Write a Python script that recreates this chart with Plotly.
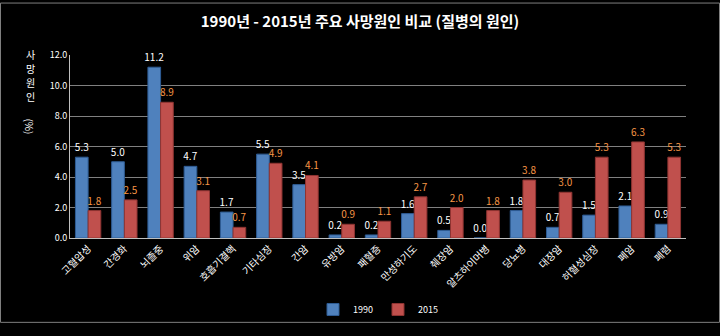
import plotly.graph_objects as go

categories = ["고혈압성", "간경화", "뇌졸중", "위암", "호흡기결핵", "기타심장", "간암", "유방암",
              "패혈증", "만성하기도", "췌장암", "알츠하이머병", "당뇨병", "대장암", "허혈성심장", "폐암", "폐렴"]
v1990 = [5.3, 5.0, 11.2, 4.7, 1.7, 5.5, 3.5, 0.2, 0.2, 1.6, 0.5, 0.0, 1.8, 0.7, 1.5, 2.1, 0.9]
v2015 = [1.8, 2.5, 8.9, 3.1, 0.7, 4.9, 4.1, 0.9, 1.1, 2.7, 2.0, 1.8, 3.8, 3.0, 5.3, 6.3, 5.3]
yticks = [0, 2, 4, 6, 8, 10, 12]
ytitle_chars = ["사", "망", "원", "인"]

FONT = "Noto Sans CJK KR"
W, H = 720, 336
ml, mr, mt, mb = 70, 34, 55, 89

fig = go.Figure()
fig.add_bar(name="1990", x=categories, y=v1990, marker=dict(color="#4F81BD", line=dict(color="#2E5C94", width=1)),
            text=[f"{v:.1f}" for v in v1990], textposition="outside", cliponaxis=False, constraintext="none",
            textfont=dict(color="#FFFFFF", size=10, family=FONT))
fig.add_bar(name="2015", x=categories, y=v2015, marker=dict(color="#C0504D", line=dict(color="#8E3432", width=1)),
            text=[f"{v:.1f}" for v in v2015], textposition="outside", cliponaxis=False, constraintext="none",
            textfont=dict(color="#F79646", size=10, family=FONT))

pw = W - ml - mr
ph = H - mt - mb
def px(x):
    return (x - ml) / pw
def py(y):
    return (H - mb - y) / ph

annotations = []
for i, ch in enumerate(ytitle_chars):
    annotations.append(dict(text=ch, x=px(30), y=py(54 + 15 * i), xref="paper", yref="paper",
                            xanchor="center", yanchor="middle", showarrow=False,
                            font=dict(size=10, color="#FFFFFF", family=FONT)))
annotations.append(dict(text="(%)", textangle=90, x=px(30), y=py(130), xref="paper", yref="paper",
                        xanchor="center", yanchor="middle", showarrow=False,
                        font=dict(size=10, color="#FFFFFF", family=FONT)))

fig.update_layout(
    width=W, height=H,
    margin=dict(l=ml, r=mr, t=mt, b=mb),
    paper_bgcolor="#000000", plot_bgcolor="#000000",
    barmode="group", bargap=0.3, bargroupgap=0.0,
    title=dict(text="<b>1990년 - 2015년 주요 사망원인 비교 (질병의 원인)</b>", x=0.5, xanchor="center",
               y=1 - 22 / H, yanchor="middle",
               font=dict(family=FONT, size=15, color="#FFFFFF")),
    font=dict(family=FONT, color="#FFFFFF"),
    showlegend=True,
    legend=dict(orientation="h", x=0.5, xanchor="center", y=py(322), yanchor="middle",
                font=dict(size=9, color="#FFFFFF", family=FONT), bgcolor="rgba(0,0,0,0)",
                itemwidth=30, traceorder="normal"),
    xaxis=dict(tickangle=-45, tickfont=dict(size=10, color="#FFFFFF", family=FONT),
               showgrid=False, showline=True, linecolor="#BFBFBF", linewidth=1, ticks=""),
    yaxis=dict(range=[0, 12], tickvals=yticks, ticktext=[f"{v:.1f}" for v in yticks],
               tickfont=dict(size=9, color="#FFFFFF", family=FONT),
               showgrid=True, gridcolor="#808080", gridwidth=1,
               showline=True, linecolor="#BFBFBF", linewidth=1, zeroline=False, ticks=""),
    annotations=annotations,
    shapes=[dict(type="rect", xref="paper", yref="paper", x0=px(0.5), x1=px(W - 0.5), y0=py(0.5), y1=py(H - 0.5),
                 line=dict(color="#7F7F7F", width=1), layer="below")],
)

fig.write_html("out.html")
